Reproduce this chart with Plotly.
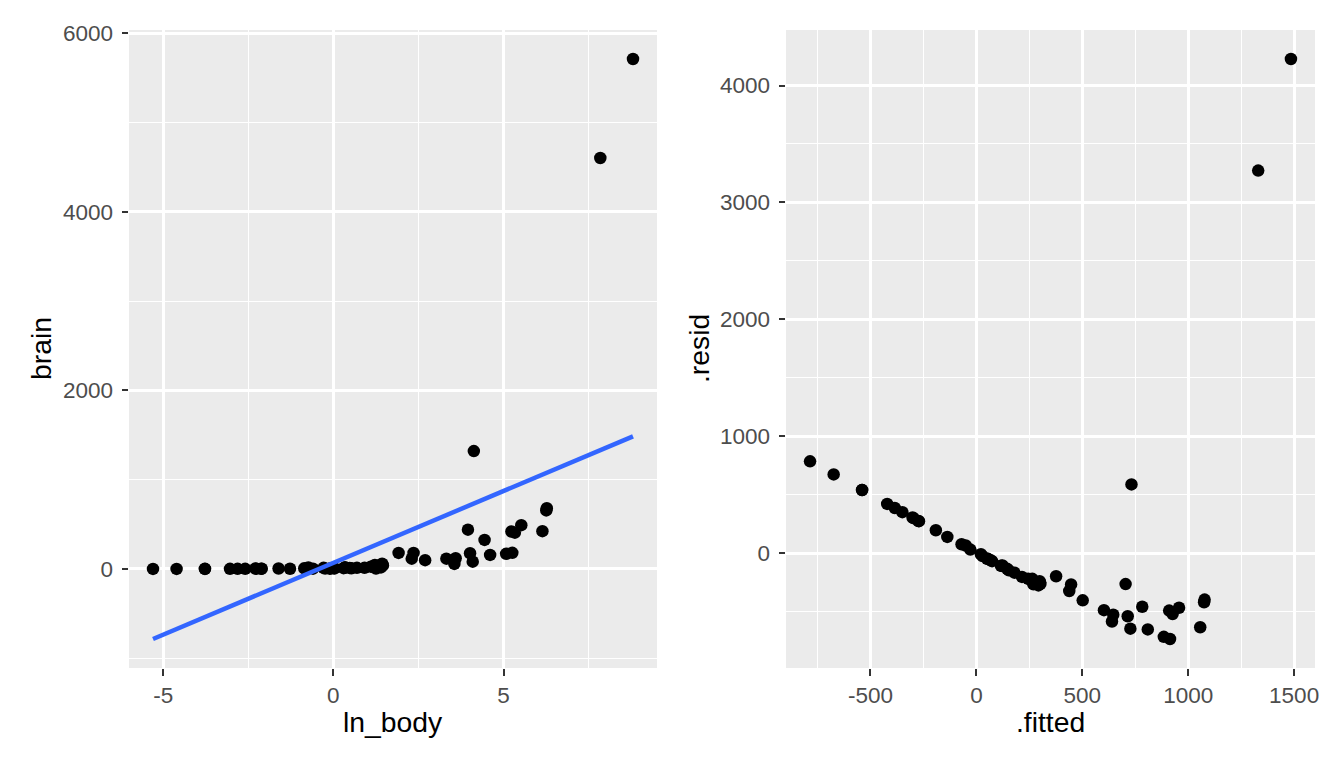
import numpy as np
import plotly.graph_objects as go

# MASS::mammals data (body weight kg, brain weight g)
species = ["Arctic fox", "Owl monkey", "Mountain beaver", "Cow", "Grey wolf", "Goat", "Roe deer",
           "Guinea pig", "Verbet", "Chinchilla", "Ground squirrel", "Arctic ground squirrel",
           "African giant pouched rat", "Lesser short-tailed shrew", "Star-nosed mole",
           "Nine-banded armadillo", "Tree hyrax", "N.A. opossum", "Asian elephant", "Big brown bat",
           "Donkey", "Horse", "European hedgehog", "Patas monkey", "Cat", "Galago", "Genet",
           "Giraffe", "Gorilla", "Grey seal", "Rock hyrax-a", "Human", "African elephant",
           "Water opossum", "Rhesus monkey", "Kangaroo", "Yellow-bellied marmot", "Golden hamster",
           "Mouse", "Little brown bat", "Slow loris", "Okapi", "Rabbit", "Sheep", "Jaguar",
           "Chimpanzee", "Baboon", "Desert hedgehog", "Giant armadillo", "Rock hyrax-b", "Raccoon",
           "Rat", "E. American mole", "Mole rat", "Musk shrew", "Pig", "Echidna", "Brazilian tapir",
           "Tenrec", "Phalanger", "Tree shrew", "Red fox"]
body = [3.385, 0.480, 1.350, 465.0, 36.33, 27.66, 14.83, 1.04, 4.19, 0.425, 0.101, 0.92, 1.0,
        0.005, 0.06, 3.5, 2.0, 1.7, 2547.0, 0.023, 187.1, 521.0, 0.785, 10.0, 3.3, 0.2, 1.41,
        529.0, 207.0, 85.0, 0.75, 62.0, 6654.0, 3.5, 6.8, 35.0, 4.05, 0.12, 0.023, 0.01, 1.4,
        250.0, 2.5, 55.5, 100.0, 52.16, 10.55, 0.55, 60.0, 3.6, 4.288, 0.28, 0.075, 0.122,
        0.048, 192.0, 3.0, 160.0, 0.9, 1.62, 0.104, 4.235]
brain = [44.5, 15.5, 8.1, 423.0, 119.5, 115.0, 98.2, 5.5, 58.0, 6.4, 4.0, 5.7, 6.6, 0.14, 1.0,
         10.8, 12.3, 6.3, 4603.0, 0.3, 419.0, 655.0, 3.5, 115.0, 25.6, 5.0, 17.5, 680.0, 406.0,
         325.0, 12.3, 1320.0, 5712.0, 3.9, 179.0, 56.0, 17.0, 1.0, 0.4, 0.25, 12.5, 490.0, 12.1,
         175.0, 157.0, 440.0, 179.5, 2.4, 81.0, 21.0, 39.2, 1.9, 1.2, 3.0, 0.33, 180.0, 25.0,
         169.0, 2.6, 11.4, 2.5, 50.4]

x_ticks_left = [-5, 0, 5]
x_labels_left = ["-5", "0", "5"]
y_ticks_left = [0, 2000, 4000, 6000]
y_labels_left = ["0", "2000", "4000", "6000"]
x_ticks_right = [-500, 0, 500, 1000, 1500]
x_labels_right = ["-500", "0", "500", "1000", "1500"]
y_ticks_right = [0, 1000, 2000, 3000, 4000]
y_labels_right = ["0", "1000", "2000", "3000", "4000"]

ln_body = np.log(np.array(body))
brain_a = np.array(brain)

# linear model brain ~ ln_body (as geom_smooth(method="lm") / augment)
slope, intercept = np.polyfit(ln_body, brain_a, 1)
fitted = intercept + slope * ln_body
resid = brain_a - fitted
line_x = np.array([ln_body.min(), ln_body.max()])
line_y = intercept + slope * line_x


def expand(lo, hi, f=0.05):
    d = (hi - lo) * f
    return [lo - d, hi + d]


xr1 = expand(ln_body.min(), ln_body.max())
yr1 = expand(min(brain_a.min(), line_y.min()), max(brain_a.max(), line_y.max()))
xr2 = expand(fitted.min(), fitted.max())
yr2 = expand(resid.min(), resid.max())

PANEL = "#EBEBEB"
TICKC = "#333333"
LABC = "#4D4D4D"
FONT = "Liberation Sans, Arial, sans-serif"
TICK_SIZE = 22.5
TITLE_SIZE = 28.3

fig = go.Figure()
fig.add_trace(go.Scatter(x=ln_body, y=brain_a, mode="markers", text=species,
                         marker=dict(color="black", size=12.5), xaxis="x", yaxis="y",
                         showlegend=False))
fig.add_trace(go.Scatter(x=line_x, y=line_y, mode="lines",
                         line=dict(color="#3366FF", width=4.5), xaxis="x", yaxis="y",
                         showlegend=False))
fig.add_trace(go.Scatter(x=fitted, y=resid, mode="markers", text=species,
                         marker=dict(color="black", size=12.5), xaxis="x2", yaxis="y2",
                         showlegend=False))

axis_common = dict(
    showline=False, zeroline=False, showgrid=True, gridcolor="white", gridwidth=2.6,
    ticks="outside", ticklen=6.5, tickwidth=2, tickcolor=TICKC, automargin=False,
    tickfont=dict(family=FONT, size=TICK_SIZE, color=LABC),
)


def minor(step):
    return dict(dtick=step, tick0=0, showgrid=True, gridcolor="white", gridwidth=1.3, ticks="")


y0d, y1d = 1 - 668 / 768, 1 - 30 / 768

fig.update_layout(
    template="none",
    width=1344, height=768,
    margin=dict(l=0, r=0, t=0, b=0, pad=0),
    paper_bgcolor="white", plot_bgcolor=PANEL,
    font=dict(family=FONT),
    showlegend=False,
    xaxis=dict(domain=[129 / 1344, 657 / 1344], range=xr1, tickvals=x_ticks_left,
               ticktext=x_labels_left, minor=minor(2.5), anchor="y", **axis_common),
    yaxis=dict(domain=[y0d, y1d], range=yr1, tickvals=y_ticks_left, ticklabelstandoff=4,
               ticktext=y_labels_left, minor=minor(1000), anchor="x", **axis_common),
    xaxis2=dict(domain=[786 / 1344, 1315 / 1344], range=xr2, tickvals=x_ticks_right,
                ticktext=x_labels_right, minor=minor(250), anchor="y2", **axis_common),
    yaxis2=dict(domain=[y0d, y1d], range=yr2, tickvals=y_ticks_right, ticklabelstandoff=4,
                ticktext=y_labels_right, minor=minor(500), anchor="x2", **axis_common),
    shapes=[dict(type="line", xref="x2 domain", yref="y2", x0=0, x1=1, y0=0, y1=0,
                 line=dict(color="black", width=2), layer="below")],
    annotations=[
        dict(text="ln_body", xref="paper", yref="paper", x=393 / 1344, y=1 - 722 / 768,
             showarrow=False, font=dict(size=TITLE_SIZE, color="black", family=FONT),
             xanchor="center", yanchor="middle"),
        dict(text=".fitted", xref="paper", yref="paper", x=1050 / 1344, y=1 - 722 / 768,
             showarrow=False, font=dict(size=TITLE_SIZE, color="black", family=FONT),
             xanchor="center", yanchor="middle"),
        dict(text="brain", xref="paper", yref="paper", x=41 / 1344, y=1 - 349 / 768,
             showarrow=False, textangle=-90, font=dict(size=TITLE_SIZE, color="black", family=FONT),
             xanchor="center", yanchor="middle"),
        dict(text=".resid", xref="paper", yref="paper", x=699 / 1344, y=1 - 349 / 768,
             showarrow=False, textangle=-90, font=dict(size=TITLE_SIZE, color="black", family=FONT),
             xanchor="center", yanchor="middle"),
    ],
)

fig.write_html("out.html")
